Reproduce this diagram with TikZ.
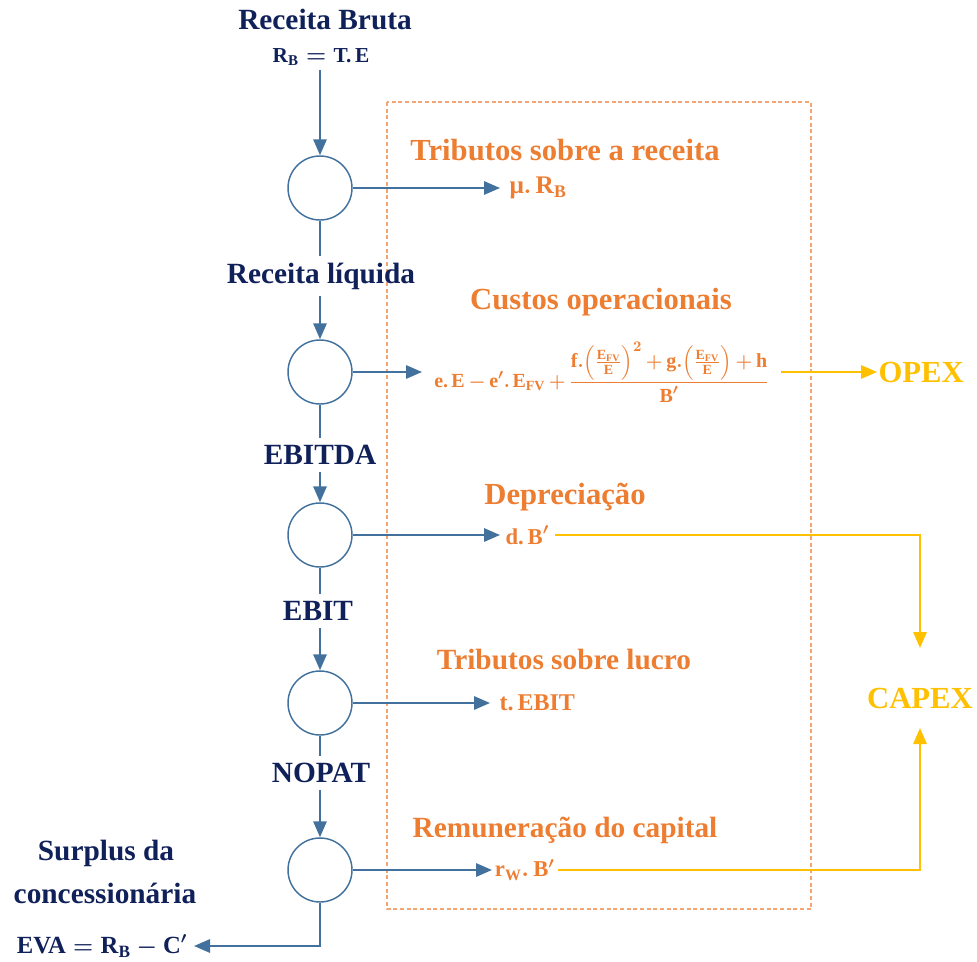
\documentclass[tikz,border=0pt]{standalone}
\usepackage{amsmath}
\usepackage{fontspec}
\setmainfont{Liberation Serif}
\usetikzlibrary{arrows.meta,calc}
\definecolor{navyc}{RGB}{16,33,90}
\definecolor{bluec}{RGB}{65,113,156}
\definecolor{orangec}{RGB}{237,125,49}
\definecolor{yellowc}{RGB}{255,192,0}
\definecolor{dashc}{RGB}{244,165,115}
\newcommand{\tb}[1]{\text{\bfseries #1}}
\tikzset{
  navy/.style={text=navyc, font=\fontsize{22}{26}\selectfont\bfseries, inner xsep=1pt, inner ysep=5pt},
  navymath/.style={text=navyc, font=\fontsize{#1}{18}\selectfont\boldmath, inner sep=3pt},
  ohead/.style={text=orangec, font=\fontsize{#1}{26}\selectfont\bfseries, inner sep=1pt, align=center},
  omath/.style={text=orangec, font=\fontsize{#1}{20}\selectfont\boldmath},
  ybig/.style={text=yellowc, font=\fontsize{23}{26}\selectfont\bfseries, inner sep=1pt},
  circ/.style={circle, draw=bluec, line width=1.1pt, minimum size=48pt, inner sep=0pt},
  bline/.style={draw=bluec, line width=1.5pt},
  barrow/.style={bline, -{Triangle[length=12pt,width=10pt]}},
  yline/.style={draw=yellowc, line width=1.5pt},
  yarrow/.style={yline, -{Triangle[length=12pt,width=10pt]}},
  frame/.style={draw=dashc, line width=0.8pt, dash pattern=on 3pt off 2pt}
}
\begin{document}
\begin{tikzpicture}[x=0.75pt,y=-0.75pt]
\path[use as bounding box] (0,0) rectangle (977,962);
% frame
\draw[frame] (387,102) rectangle (811,909);
% left column labels
\node[navy] (rb) at (325,20) {Receita Bruta};
\node[navymath=16] (rbf) at (321,57) {$\tb{R}_{\tb{B}} = \tb{T.\,E}$};
\node[circ] (c1) at (320,188) {};
\node[navy] (rl) at (321,276) {Receita líquida};
\node[circ] (c2) at (320,372) {};
\node[navy] (ebitda) at (320,455) {EBITDA};
\node[circ] (c3) at (320,535) {};
\node[navy] (ebit) at (318,611) {EBIT};
\node[circ] (c4) at (320,703) {};
\node[navy] (nopat) at (321,773) {NOPAT};
\node[circ] (c5) at (320,870) {};
\node[navy, inner ysep=1pt] (surp) at (106,853) {Surplus da};
\node[navy, inner ysep=1pt] (conc) at (105,893) {concessionária};
\node[navymath=18.5, inner xsep=5pt] (eva) at (102,946) {$\tb{EVA} = \tb{R}_{\tb{B}} - \tb{C}'$};
% orange headings
\node[ohead=23] (h1) at (565,150) {Tributos sobre a receita};
\node[ohead=23] (h2) at (601,302) {Custos operacionais};
\node[ohead=23] (h3) at (565,497) {Depreciação};
\node[ohead=22] (h4) at (564,659) {Tributos sobre lucro};
\node[ohead=22] (h5) at (565,830) {Remuneração do capital};
% orange terms
\node[omath=19, anchor=west, inner xsep=7pt] (mu) at (500,188) {$\tb{μ}.\,\tb{R}_{\tb{B}}$};
\node[omath=15, anchor=west, inner xsep=9pt] (f) at (422,372)
  {\medmuskip=3mu\thinmuskip=2mu$\displaystyle \tb{e.\,E} - \tb{e}'.\,\tb{E}_{\tb{FV}} + \frac{\tb{f}.\Bigl(\frac{\tb{E}_{\tb{FV}}}{\tb{E}}\Bigr)^{2} + \tb{g}.\Bigl(\frac{\tb{E}_{\tb{FV}}}{\tb{E}}\Bigr) + \tb{h}}{\tb{B}'}$};
\node[omath=17, anchor=west, inner xsep=4pt] (db) at (500,535) {$\tb{d.\,B}'$};
\node[omath=18, anchor=west, inner xsep=7pt] (tebit) at (490,703) {$\tb{t.\,EBIT}$};
\node[omath=17, anchor=west, inner xsep=2pt] (rw) at (492,870) {$\tb{r}_{\tb{W}}.\,\tb{B}'$};
% yellow
\node[ybig, anchor=west] (opex) at (877,372) {OPEX};
\node[ybig] (capex) at (920,698) {CAPEX};
% main column connectors
\draw[barrow] (rbf.south -| c1.north) -- (c1.north);
\draw[bline] (c1.south) -- (rl.north -| c1.south);
\draw[barrow] (rl.south -| c2.north) -- (c2.north);
\draw[bline] (c2.south) -- (ebitda.north -| c2.south);
\draw[barrow] (ebitda.south -| c3.north) -- (c3.north);
\draw[bline] (c3.south) -- (ebit.north -| c3.south);
\draw[barrow] (ebit.south -| c4.north) -- (c4.north);
\draw[bline] (c4.south) -- (nopat.north -| c4.south);
\draw[barrow] (nopat.south -| c5.north) -- (c5.north);
\draw[barrow] (c5.south) |- (eva.east);
% side connectors
\draw[barrow] (c1.east) -- (mu.west);
\draw[barrow] (c2.east) -- (f.west);
\draw[barrow] (c3.east) -- (db.west);
\draw[barrow] (c4.east) -- (tebit.west);
\draw[barrow] (c5.east) -- (rw.west);
% yellow connectors
\draw[yarrow] (f.east) -- (opex.west);
\draw[yarrow] (db.east) -| ($(capex.center)+(0,-50)$);
\draw[yarrow] (rw.east) -| ($(capex.center)+(0,30)$);
\end{tikzpicture}
\end{document}
